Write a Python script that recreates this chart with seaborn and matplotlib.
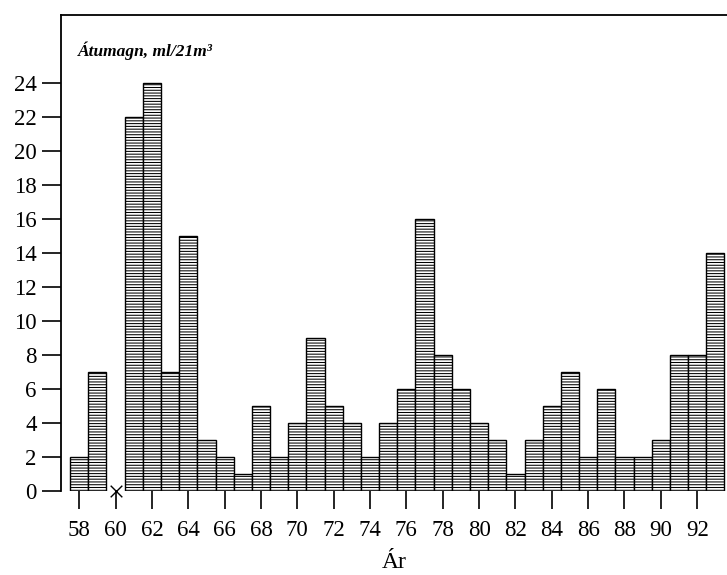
import matplotlib
matplotlib.use("Agg")
import matplotlib.pyplot as plt
import seaborn as sns
import pandas as pd

years = list(range(1958, 1994))
values = [2, 7, 0, 22, 24, 7, 15, 3, 2, 1, 5, 2, 4, 9, 5, 4, 2, 4, 6, 16,
          8, 6, 4, 3, 1, 3, 5, 7, 2, 6, 2, 2, 3, 8, 8, 14]
tick_years = list(range(1958, 1993, 2))
tick_labels = [str(y % 100) for y in tick_years]
y_ticks = list(range(0, 25, 2))
title_text = "Átumagn, ml/21m³"
xlabel_text = "Ár"

sns.set_theme(style="white")
plt.rcParams["font.family"] = ["Liberation Serif", "DejaVu Serif"]
plt.rcParams["hatch.linewidth"] = 0.75

df = pd.DataFrame({"year": years, "value": values})

fig = plt.figure(figsize=(7.27, 5.75), dpi=100)
ax = fig.add_axes([61 / 727, 1 - 491 / 575, 1 - 61 / 727, (491 - 15) / 575])

sns.barplot(data=df, x="year", y="value", native_scale=True, width=1.0,
            color="white", edgecolor="black", linewidth=1.0, ax=ax,
            errorbar=None)
for p in ax.patches:
    p.set_hatch("------")
    if p.get_height() == 0:
        p.set_visible(False)

# missing-value marker(s)
zero_years = [y for y, v in zip(years, values) if v == 0]
ax.scatter(zero_years, [0] * len(zero_years), marker="x", s=70, color="black",
           linewidths=1.0, zorder=5, clip_on=False)

ax.set_xlim(1957.0, 1993.64)
ax.set_ylim(0, 28)
ax.set_xticks(tick_years)
ax.set_xticklabels(tick_labels)
ax.set_yticks(y_ticks)
ax.set_yticklabels([str(v) for v in y_ticks])

for side in ["right", "bottom"]:
    ax.spines[side].set_visible(False)
for side in ["left", "top"]:
    ax.spines[side].set_visible(True)
    ax.spines[side].set_color("black")
    ax.spines[side].set_linewidth(1.3)

ax.tick_params(axis="y", which="major", direction="out", length=13.5, width=1.2,
               color="black", labelsize=16.5, pad=4, left=True)
ax.tick_params(axis="x", which="major", direction="out", length=13, width=1.2,
               color="black", labelsize=16.5, pad=8, bottom=True)

ax.set_xlabel(xlabel_text, fontsize=17, labelpad=8, color="black")
ax.set_ylabel("")
for lab in ax.get_xticklabels() + ax.get_yticklabels():
    lab.set_color("black")

ax.text(1957.95, 25.9, title_text, fontsize=12.5, style="italic",
        fontweight="bold", ha="left", va="center", color="black")

fig.savefig("out.png", dpi=100)
